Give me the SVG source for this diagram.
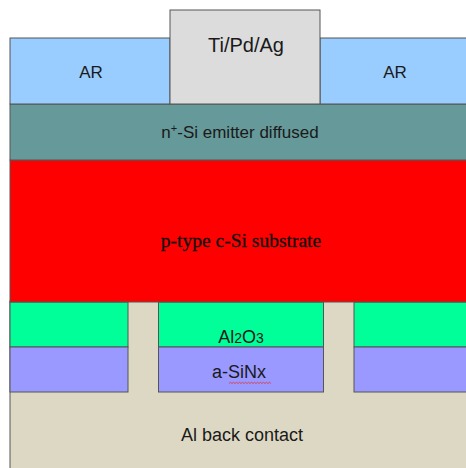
<svg xmlns="http://www.w3.org/2000/svg" width="466" height="468" viewBox="0 0 466 468">
  <style>
    .layer { stroke: #555; stroke-width: 1; }
    .lbl { font-family: "Liberation Sans", Arial, sans-serif; fill: #1a1a1a; text-anchor: middle; }
    .ser { font-family: "Liberation Serif", "DejaVu Serif", serif; fill: #111; text-anchor: middle; }
  </style>
  <rect x="0" y="0" width="466" height="468" fill="#ffffff"/>

  <!-- back contact fills the lower region and the openings -->
  <g id="back-contact">
    <rect class="layer" x="10" y="301" width="460" height="172" fill="#ddd8c3"/>
    <text class="lbl" x="242" y="441" font-size="18">Al back contact</text>
  </g>

  <!-- rear passivation stacks -->
  <g id="al2o3">
    <rect class="layer" x="10" y="302" width="118" height="45" fill="#00ff99"/>
    <rect class="layer" x="158.5" y="302" width="165" height="45" fill="#00ff99"/>
    <rect class="layer" x="354" y="302" width="116" height="45" fill="#00ff99"/>
    <text class="lbl" x="241" y="343" font-size="18">Al<tspan font-size="14">2</tspan>O<tspan font-size="14">3</tspan></text>
  </g>
  <g id="sinx">
    <rect class="layer" x="10" y="347" width="118" height="45" fill="#9999ff"/>
    <rect class="layer" x="158.5" y="347" width="165" height="45" fill="#9999ff"/>
    <rect class="layer" x="354" y="347" width="116" height="45" fill="#9999ff"/>
    <text class="lbl" x="239" y="378" font-size="18">a-SiNx</text>
    <path d="M229 383.5 l1.5 -1.2 l1.5 1.2 l1.5 -1.2 l1.5 1.2 l1.5 -1.2 l1.5 1.2 l1.5 -1.2 l1.5 1.2 l1.5 -1.2 l1.5 1.2 l1.5 -1.2 l1.5 1.2 l1.5 -1.2 l1.5 1.2 l1.5 -1.2 l1.5 1.2 l1.5 -1.2 l1.5 1.2 l1.5 -1.2 l1.5 1.2 l1.5 -1.2 l1.5 1.2 l1.5 -1.2 l1.5 1.2 l1.5 -1.2 l1.5 1.2 l1.5 -1.2 l1.5 1.2" fill="none" stroke="#e03030" stroke-width="0.8"/>
  </g>

  <!-- bulk wafer -->
  <g id="substrate">
    <rect class="layer" x="10" y="160" width="460" height="142" fill="#ff0000"/>
    <text class="ser" x="241" y="247" font-size="19.5" stroke="#111" stroke-width="0.3">p-type c-Si substrate</text>
  </g>

  <!-- front emitter -->
  <g id="emitter">
    <rect class="layer" x="10" y="104" width="460" height="56" fill="#669999"/>
    <text class="lbl" x="240" y="138" font-size="17">n<tspan font-size="11" dy="-6">+</tspan><tspan dy="6">-Si emitter diffused</tspan></text>
  </g>

  <!-- antireflection coating -->
  <g id="ar-left">
    <rect class="layer" x="10" y="38" width="160" height="66" fill="#99ccff"/>
    <text class="lbl" x="91" y="78" font-size="17">AR</text>
  </g>
  <g id="ar-right">
    <rect class="layer" x="320" y="38" width="150" height="66" fill="#99ccff"/>
    <text class="lbl" x="395" y="78" font-size="17">AR</text>
  </g>

  <!-- front metal contact -->
  <g id="front-contact">
    <rect class="layer" x="170" y="10" width="150" height="94" fill="#dcdcdc"/>
    <text class="lbl" x="246" y="52" font-size="20">Ti/Pd/Ag</text>
  </g>
</svg>
